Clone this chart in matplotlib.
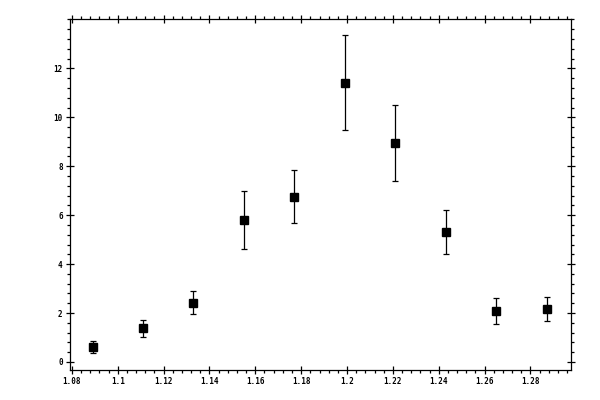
import matplotlib
matplotlib.use("Agg")
import matplotlib.pyplot as plt
from matplotlib.ticker import MultipleLocator, AutoMinorLocator, FormatStrFormatter

# data
x_vals = [1.089, 1.111, 1.133, 1.155, 1.177, 1.199, 1.221, 1.243, 1.265, 1.287]
y_vals = [0.60, 1.38, 2.40, 5.79, 6.73, 11.39, 8.94, 5.30, 2.07, 2.15]
err_low = [0.24, 0.37, 0.45, 1.18, 1.06, 1.91, 1.56, 0.90, 0.53, 0.49]
err_high = [0.25, 0.32, 0.49, 1.19, 1.10, 1.96, 1.55, 0.90, 0.53, 0.49]

x_ticks = [1.08, 1.1, 1.12, 1.14, 1.16, 1.18, 1.2, 1.22, 1.24, 1.26, 1.28]
x_labels = ["1.08", "1.1", "1.12", "1.14", "1.16", "1.18", "1.2", "1.22", "1.24", "1.26", "1.28"]
y_ticks = [0, 2, 4, 6, 8, 10, 12]


def main():
    fig = plt.figure(figsize=(6, 4), dpi=100)
    ax = fig.add_axes([0.116, 0.075, 0.835, 0.8775])

    ax.errorbar(x_vals, y_vals, yerr=[err_low, err_high], fmt="s", color="black",
                markersize=5.4, elinewidth=0.9, capsize=2.0, capthick=0.9)

    ax.set_xlim(1.079, 1.2975)
    ax.set_ylim(-0.33, 14.02)

    ax.set_xticks(x_ticks)
    ax.set_xticklabels(x_labels)
    ax.set_yticks(y_ticks)
    ax.xaxis.set_minor_locator(AutoMinorLocator(5))
    ax.yaxis.set_minor_locator(AutoMinorLocator(5))

    for side in ax.spines.values():
        side.set_linewidth(0.9)

    ax.tick_params(which="major", direction="inout", length=6, width=0.9,
                   top=True, right=True, labelsize=5.5, pad=2)
    ax.tick_params(which="minor", direction="out", length=2.2, width=0.9,
                   top=True, right=True)
    for lab in ax.get_xticklabels() + ax.get_yticklabels():
        lab.set_family("DejaVu Sans Mono")
        lab.set_fontweight("bold")

    fig.savefig("out.png", dpi=100)


if __name__ == "__main__":
    main()
